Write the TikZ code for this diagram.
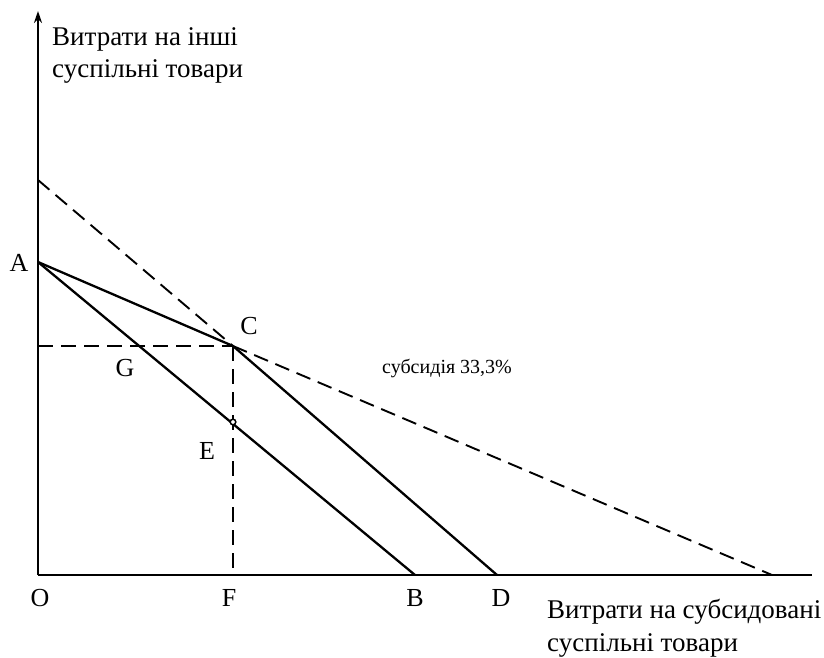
\documentclass[tikz,border=0pt]{standalone}
\usepackage{fontspec}
\setmainfont{Liberation Serif}
\usetikzlibrary{arrows.meta}
\begin{document}
\begin{tikzpicture}[x=1pt,y=-1pt,
  lbl/.style={font=\fontsize{26}{30}\selectfont, inner sep=0pt},
  axis/.style={line width=1.6pt},
  solidline/.style={line width=2.3pt},
  dashline/.style={line width=1.9pt, dash pattern=on 15pt off 8pt}]
\useasboundingbox (0,0) rectangle (824,657);
\coordinate (O) at (38,575);
\coordinate (Ytop) at (38,11);
\coordinate (Xend) at (812,575);
\coordinate (A) at (38,262);
\coordinate (C) at (233,346);
\coordinate (B) at (415,575);
\coordinate (D) at (497,575);
\coordinate (E) at (233,422);
\coordinate (F) at (233,575);
\coordinate (H) at (38,346);
\coordinate (K) at (38,180);
\coordinate (S) at (772,575);
% axes
\draw[axis, -{Stealth[length=12pt,width=8pt]}] (O) -- (Ytop);
\draw[axis] (O) -- (Xend);
% dashed lines
\draw[dashline] (K) -- (C);
\draw[dashline] (C) -- (S);
\draw[dashline] (H) -- (C);
\draw[dashline] (C) -- (F);
% solid lines
\draw[solidline] (A) -- (C) -- (D);
\draw[solidline] (A) -- (B);
\draw[line width=1.5pt, fill=white] (E) circle (2.8pt);
% labels
\node[lbl] (lA) at (19,263) {A};
\node[lbl] (lC) at (249,326) {C};
\node[lbl] (lG) at (125,368) {G};
\node[lbl] (lE) at (207,451) {E};
\node[lbl] (lO) at (40,598) {O};
\node[lbl] (lF) at (229,598) {F};
\node[lbl] (lB) at (415,598) {B};
\node[lbl] (lD) at (501,598) {D};
\node[font=\fontsize{20}{24}\selectfont, inner sep=0pt, anchor=west] (sub) at (382,368) {субсидія 33,3\%};
\node[lbl, anchor=north west, align=left, font=\fontsize{27}{32}\selectfont] (ylab) at (52,27) {Витрати на інші\\суспільні товари};
\node[lbl, anchor=north west, align=left, font=\fontsize{27}{33}\selectfont] (xlab) at (547,599) {Витрати на субсидовані\\суспільні товари};
\end{tikzpicture}
\end{document}
